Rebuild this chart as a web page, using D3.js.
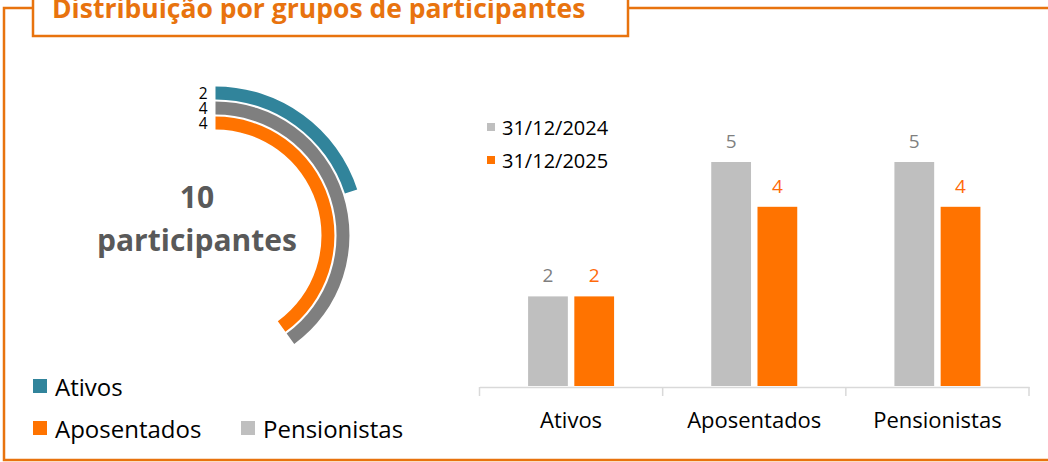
<!DOCTYPE html>
<html>
<head>
<meta charset="utf-8">
<script src="https://cdn.jsdelivr.net/npm/d3@7"></script>
<style>
  body { margin: 0; background: #fff; }
  svg { display: block; font-family: "Open Sans", sans-serif; }
</style>
</head>
<body>
<svg id="chart" width="1048" height="462"></svg>
<script>
// data
var titleText = "Distribuição por grupos de participantes";
var ringGroups = ["Ativos", "Pensionistas", "Aposentados"];
var ringValues = [2, 4, 4];
var legendGroups = ["Ativos", "Aposentados", "Pensionistas"];
var categories = ["Ativos", "Aposentados", "Pensionistas"];
var series = ["31/12/2024", "31/12/2025"];
var values2024 = [2, 5, 5];
var values2025 = [2, 4, 4];

var frameOrange = "#E8730E";
var groupColor = { "Ativos": "#31849B", "Pensionistas": "#7F7F7F", "Aposentados": "#FF7300" };
var legendColor = { "Ativos": "#31849B", "Aposentados": "#FF7300", "Pensionistas": "#BFBFBF" };
var seriesColor = { "31/12/2024": "#BFBFBF", "31/12/2025": "#FF7300" };
var labelColor = { "31/12/2024": "#7F7F7F", "31/12/2025": "#FF6A0A" };

var svg = d3.select("#chart");

// frame + title box
svg.append("path")
  .attr("d", "M33,8 H4 V460 H1052 M628,8 H1052")
  .attr("fill", "none")
  .attr("stroke", frameOrange)
  .attr("stroke-width", 2.5);

svg.append("rect")
  .attr("x", 33).attr("y", -10)
  .attr("width", 595).attr("height", 46)
  .attr("fill", "#fff")
  .attr("stroke", frameOrange)
  .attr("stroke-width", 2.5);

svg.append("text")
  .attr("x", 52).attr("y", 18)
  .attr("fill", frameOrange)
  .attr("font-weight", "bold")
  .attr("font-size", 26.5)
  .text(titleText);

// radial bars
var cx = 215.5, cy = 235.5;
var total = d3.sum(ringValues);
var angle = d3.scaleLinear().domain([0, total]).range([0, 2 * Math.PI]);
var radius = d3.scaleBand().domain(ringGroups).range([149, 106]).paddingInner(0.14);

var ringData = ringGroups.map(function(g, i) { return { group: g, value: ringValues[i] }; });

var ring = svg.append("g").attr("transform", "translate(" + cx + "," + cy + ")");

ring.selectAll("path")
  .data(ringData)
  .enter()
  .append("path")
  .attr("fill", function(d) { return groupColor[d.group]; })
  .attr("d", function(d) {
    return d3.arc()
      .innerRadius(radius(d.group))
      .outerRadius(radius(d.group) + radius.bandwidth())
      .startAngle(0)
      .endAngle(angle(d.value))();
  });

ring.selectAll("text.rl")
  .data(ringData)
  .enter()
  .append("text")
  .attr("class", "rl")
  .attr("x", -8)
  .attr("y", function(d) { return -(radius(d.group) + radius.bandwidth() / 2); })
  .attr("text-anchor", "end")
  .attr("dominant-baseline", "central")
  .attr("font-size", 15.5)
  .attr("fill", "#000")
  .text(function(d) { return d.value; });

svg.append("text")
  .attr("x", 197).attr("y", 208)
  .attr("text-anchor", "middle")
  .attr("font-weight", "bold")
  .attr("font-size", 30)
  .attr("fill", "#595959")
  .text(total);

svg.append("text")
  .attr("x", 197).attr("y", 251)
  .attr("text-anchor", "middle")
  .attr("font-weight", "bold")
  .attr("font-size", 30)
  .attr("fill", "#595959")
  .text("participantes");

// left legend
var legendPos = [[33, 386], [33, 428], [241, 428]];
var leg = svg.selectAll("g.leg")
  .data(legendGroups)
  .enter()
  .append("g")
  .attr("class", "leg")
  .attr("transform", function(d, i) { return "translate(" + legendPos[i][0] + "," + legendPos[i][1] + ")"; });

leg.append("rect")
  .attr("x", 0).attr("y", -7)
  .attr("width", 14).attr("height", 14)
  .attr("fill", function(d) { return legendColor[d]; });

leg.append("text")
  .attr("x", 22).attr("y", 0)
  .attr("dominant-baseline", "central")
  .attr("font-size", 24)
  .attr("fill", "#000")
  .text(function(d) { return d; });

// bar chart
var x0 = d3.scaleBand().domain(categories).range([479.5, 1029]);
var x1 = d3.scaleBand().domain(series)
  .range([x0.bandwidth() / 2 - 43, x0.bandwidth() / 2 + 43])
  .paddingInner(0.14);
var y = d3.scaleLinear().domain([0, 5]).range([386, 162]);

var barData = [];
categories.forEach(function(c, i) {
  barData.push({ cat: c, s: series[0], v: values2024[i] });
  barData.push({ cat: c, s: series[1], v: values2025[i] });
});

svg.selectAll("rect.bar")
  .data(barData)
  .enter()
  .append("rect")
  .attr("class", "bar")
  .attr("x", function(d) { return x0(d.cat) + x1(d.s); })
  .attr("y", function(d) { return y(d.v); })
  .attr("width", x1.bandwidth())
  .attr("height", function(d) { return y(0) - y(d.v); })
  .attr("fill", function(d) { return seriesColor[d.s]; });

svg.selectAll("text.val")
  .data(barData)
  .enter()
  .append("text")
  .attr("class", "val")
  .attr("x", function(d) { return x0(d.cat) + x1(d.s) + x1.bandwidth() / 2; })
  .attr("y", function(d) { return y(d.v) - 14; })
  .attr("text-anchor", "middle")
  .attr("font-size", 19)
  .attr("fill", function(d) { return labelColor[d.s]; })
  .text(function(d) { return d.v; });

// axis
var axis = svg.append("g")
  .attr("transform", "translate(0,387)")
  .call(d3.axisBottom(x0).tickSize(0).tickPadding(25));
axis.select(".domain").attr("stroke", "#D9D9D9").attr("stroke-width", 1.5);
axis.selectAll("text")
  .attr("font-family", "Open Sans, sans-serif")
  .attr("font-size", 22)
  .attr("fill", "#000");

axis.selectAll("line.bound")
  .data(d3.range(categories.length + 1))
  .enter()
  .append("line")
  .attr("class", "bound")
  .attr("x1", function(i) { return x0.range()[0] + i * x0.step(); })
  .attr("x2", function(i) { return x0.range()[0] + i * x0.step(); })
  .attr("y1", 0).attr("y2", 9)
  .attr("stroke", "#D9D9D9")
  .attr("stroke-width", 1.5);

// right legend
var sleg = svg.selectAll("g.sleg")
  .data(series)
  .enter()
  .append("g")
  .attr("class", "sleg")
  .attr("transform", function(d, i) { return "translate(487," + (127 + i * 33) + ")"; });

sleg.append("rect")
  .attr("x", 0).attr("y", -4)
  .attr("width", 8).attr("height", 8)
  .attr("fill", function(d) { return seriesColor[d]; });

sleg.append("text")
  .attr("x", 15).attr("y", 0)
  .attr("dominant-baseline", "central")
  .attr("font-size", 20)
  .attr("fill", "#000")
  .text(function(d) { return d; });
</script>
</body>
</html>
